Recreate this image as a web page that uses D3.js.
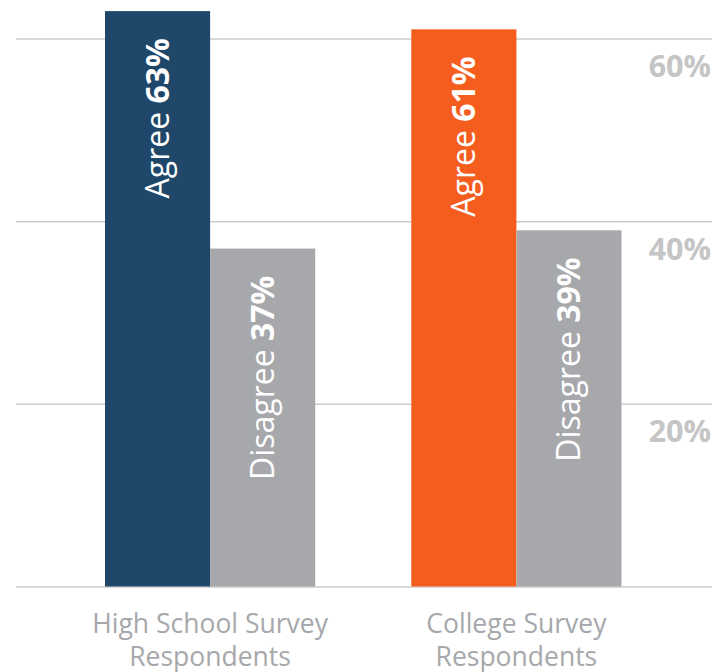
<!DOCTYPE html>
<html>
<head>
<meta charset="utf-8">
<script src="https://cdn.jsdelivr.net/npm/d3@7"></script>
<style>
  html, body { margin: 0; padding: 0; background: #ffffff; }
  svg { display: block; font-family: "Open Sans", "Noto Sans", sans-serif; }
</style>
</head>
<body>
<svg id="chart" width="716" height="672"></svg>
<script>
// Survey groups and their two-line captions
const categories = ["High School", "College"];
const categoryLines = [["High School Survey", "Respondents"], ["College Survey", "Respondents"]];

// Share of respondents, in percent
const agree = [63, 61];
const disagree = [37, 39];

// Series names and colours
const seriesNames = ["Agree", "Disagree"];
const agreeColors = ["#1e4769", "#f55d1f"];
const disagreeColor = "#a7a8ab";

// Value axis
const yTicks = [0, 20, 40, 60];
const yTickLabels = ["", "20%", "40%", "60%"];

const svg = d3.select("#chart");

const gridLeft = 16, gridRight = 712;
const y = d3.scaleLinear().domain([0, 60]).range([586.5, 38.5]);

const x = d3.scaleBand()
  .domain(categories)
  .range([105, 621.5])
  .paddingInner(96 / 306)
  .paddingOuter(0);

const xs = d3.scaleBand()
  .domain(seriesNames)
  .range([0, x.bandwidth()])
  .padding(0);

// Horizontal gridlines
const grid = svg.append("g")
  .attr("transform", `translate(${gridLeft},0)`)
  .call(d3.axisLeft(y).tickValues(yTicks).tickSize(-(gridRight - gridLeft)).tickFormat(""));
grid.select(".domain").remove();
grid.selectAll(".tick line").attr("stroke", "#cbcbcb").attr("stroke-width", 1.5);

// Tick labels sit just below each gridline, right-aligned
const labels = svg.append("g")
  .attr("transform", `translate(711,0)`)
  .call(d3.axisRight(y).tickValues(yTicks).tickSize(0).tickFormat((d, i) => yTickLabels[i]));
labels.select(".domain").remove();
labels.selectAll(".tick text")
  .attr("x", 0)
  .attr("dy", 38)
  .attr("text-anchor", "end")
  .attr("fill", "#c5c5c5")
  .attr("font-family", "\"Open Sans\", sans-serif")
  .attr("font-size", 30.5)
  .attr("font-weight", 700);

// Bars
const rows = [];
categories.forEach((c, i) => {
  rows.push({ cat: c, series: "Agree", value: agree[i], color: agreeColors[i] });
  rows.push({ cat: c, series: "Disagree", value: disagree[i], color: disagreeColor });
});

const bars = svg.append("g");
bars.selectAll("rect")
  .data(rows)
  .join("rect")
  .attr("x", d => x(d.cat) + xs(d.series))
  .attr("y", d => y(d.value))
  .attr("width", xs.bandwidth())
  .attr("height", d => y(0) - y(d.value))
  .attr("fill", d => d.color);

// Rotated labels inside bars
const barLabels = svg.append("g");
rows.forEach(d => {
  const cx = x(d.cat) + xs(d.series) + xs.bandwidth() / 2;
  const top = y(d.value) + 27;
  const t = barLabels.append("text")
    .attr("transform", `translate(${cx},${top}) rotate(-90)`)
    .attr("text-anchor", "end")
    .attr("dy", "0.36em")
    .attr("fill", "#ffffff")
    .attr("font-size", 32);
  t.append("tspan").attr("font-weight", 400).text(d.series + " ");
  t.append("tspan").attr("font-weight", 700).text(d.value + "%");
});

// Category captions
const caps = svg.append("g");
categories.forEach((c, i) => {
  const cx = x(c) + x.bandwidth() / 2;
  const t = caps.append("text")
    .attr("text-anchor", "middle")
    .attr("fill", "#a6a8ab")
    .attr("font-size", 26.5);
  categoryLines[i].forEach((line, j) => {
    t.append("tspan").attr("x", cx).attr("y", 633 + j * 33).text(line);
  });
});
</script>
</body>
</html>
